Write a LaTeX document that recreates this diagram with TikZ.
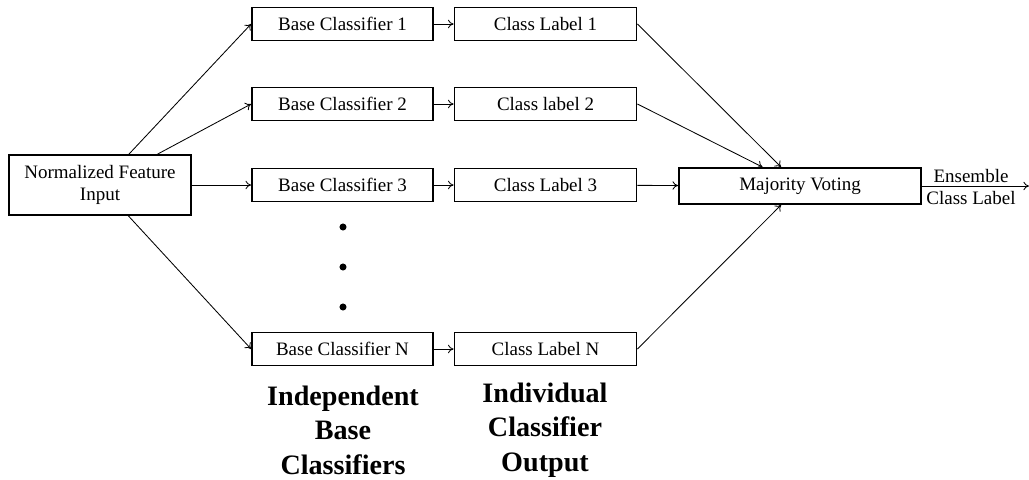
\documentclass[tikz,border=0pt]{standalone}
\usepackage{fontspec}
\setmainfont{Liberation Serif}
\usetikzlibrary{arrows.meta}
\begin{document}
\begin{tikzpicture}[x=0.025cm,y=-0.025cm,
  box/.style={draw,line width=1.3pt,inner sep=0pt,font=\fontsize{13.5}{16}\selectfont,align=center},
  conn/.style={line width=0.6pt,-{To[length=4pt,width=6pt]}},
  caption/.style={font=\fontsize{20}{24.5}\selectfont\bfseries,align=center},
  dot/.style={circle,fill,inner sep=0pt,minimum size=5pt}]
\useasboundingbox (0,0) rectangle (1029,479);
\node[box,minimum width=182*0.025cm,minimum height=60*0.025cm] (in) at (100,185) {Normalized Feature\\Input};
\foreach \n/\y/\t/\c in {1/24/Base Classifier 1/Class Label 1,2/104/Base Classifier 2/Class label 2,3/185/Base Classifier 3/Class Label 3,N/349/Base Classifier N/Class Label N}{
  \node[box,minimum width=181*0.025cm,minimum height=33*0.025cm] (b\n) at (342.5,\y) {\t};
  \node[box,minimum width=182*0.025cm,minimum height=33*0.025cm] (c\n) at (545.5,\y) {\c};
  \draw[conn] (in) -- (b\n.west);
  \draw[conn] (b\n) -- (c\n);
}
\node[box,minimum width=242*0.025cm,minimum height=36*0.025cm] (mv) at (800,186) {Majority Voting};
\draw[conn] (c3) -- (mv);
\draw[conn] (c1.east) -- (mv);
\draw[conn] (c2.east) -- (mv);
\draw[conn] (cN.east) -- (mv);
\coordinate (out) at (1029,186);
\draw[conn] (mv.east) -- (out);
\node[font=\fontsize{13.5}{16}\selectfont,align=center,inner sep=0pt] (ens) at (971,187) {Ensemble\\Class Label};
\node[dot] (d1) at (343,227) {};
\node[dot] (d2) at (343,267) {};
\node[dot] (d3) at (343,307) {};
\node[caption] (cap1) at (343,430) {Independent\\Base\\Classifiers};
\node[caption] (cap2) at (545,430) {Individual\\Classifier\\Output};
\end{tikzpicture}
\end{document}
